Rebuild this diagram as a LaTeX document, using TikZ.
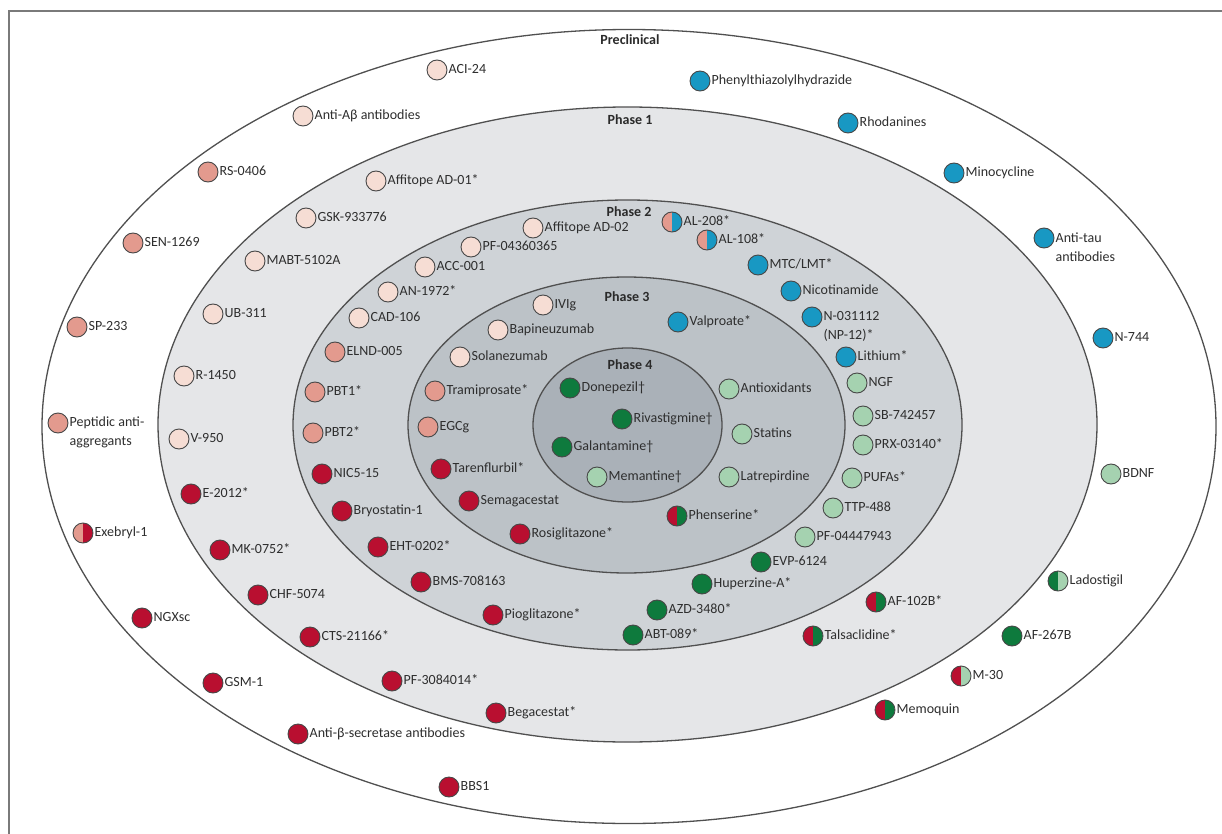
\documentclass[tikz,border=0pt]{standalone}
\usepackage{fontspec}
\setmainfont{Carlito}
\usetikzlibrary{shapes.geometric}
\definecolor{lpink}{HTML}{F6DDD4}
\definecolor{mpink}{HTML}{E39A8E}
\definecolor{dred}{HTML}{B90F30}
\definecolor{cblue}{HTML}{1898C3}
\definecolor{dgreen}{HTML}{0E7A3D}
\definecolor{lgreen}{HTML}{A5D2B0}
\definecolor{pone}{HTML}{E5E6E8}
\definecolor{ptwo}{HTML}{CFD3D7}
\definecolor{pthree}{HTML}{BCC2C7}
\definecolor{pfour}{HTML}{AAB1B8}
\definecolor{txt}{HTML}{2E2E2E}
\definecolor{ptxt}{HTML}{2A2A2A}
\definecolor{ringline}{HTML}{505050}
\definecolor{framec}{HTML}{7A7A7A}
\newcommand\drug[4]{\node[dot=#3] (#1) at (#2) {}; \node[lab] (#1l) at (#1.east) {#4};}
\newcommand\drugtwo[4]{\node[dot=#3] (#1) at (#2) {}; \node[labtwo] (#1l) at (#1.east) {#4};}
\newcommand\hdrug[5]{\node[halfdot={#3}{#4}] (#1) at (#2) {}; \node[lab] (#1l) at (#1.east) {#5};}
\begin{document}
\begin{tikzpicture}[x=1pt,y=-1pt,
 dot/.style={circle,draw=black!72,line width=0.9pt,minimum size=20pt,inner sep=0pt,fill=#1},
 halfdot/.style 2 args={circle,draw=black!72,line width=0.9pt,minimum size=20pt,inner sep=0pt,
   path picture={\fill[#1] (path picture bounding box.south west) rectangle (path picture bounding box.north);
                 \fill[#2] (path picture bounding box.south) rectangle (path picture bounding box.north east);}},
 lab/.style={anchor=west,inner sep=1pt,font=\fontsize{14}{19}\selectfont,text=txt,text height=9.5pt,text depth=2.5pt},
 labtwo/.style={anchor=west,inner sep=1pt,font=\fontsize{14}{19}\selectfont,text=txt,align=left,yshift=-9.5pt},
 phase/.style={font=\bfseries\fontsize{14}{17}\selectfont,text=ptxt,inner sep=0pt},
 ring/.style={ellipse,draw=ringline,line width=1.3pt,inner sep=0pt}
]
\useasboundingbox (0,0) rectangle (1222,834);
\fill[white] (0,0) rectangle (1222,834);
\draw[framec,line width=2.4pt] (9,834) -- (9,11) -- (1222,11);
% rings
\node[ring,fill=white,minimum width=1174pt,minimum height=794pt] (pre) at (629,426.5) {};
\node[ring,fill=pone,minimum width=939pt,minimum height=635pt] (ph1) at (627.5,424.5) {};
\node[ring,fill=ptwo,minimum width=669pt,minimum height=450pt] (ph2) at (627.5,425) {};
\node[ring,fill=pthree,minimum width=437pt,minimum height=296pt] (ph3) at (626.5,425) {};
\node[ring,fill=pfour,minimum width=189pt,minimum height=154pt] (ph4) at (627.5,425) {};
% phase labels
\node[phase] (tpre) at (630,40) {Preclinical};
\node[phase] (tph1) at (630,120) {Phase 1};
\node[phase] (tph2) at (629,212) {Phase 2};
\node[phase] (tph3) at (627,297) {Phase 3};
\node[phase] (tph4) at (630,365) {Phase 4};
% preclinical
\drug{aci}{437,70}{lpink}{ACI-24}
\drug{antiab}{303,116}{lpink}{Anti-Aβ antibodies}
\drug{rs}{208,172}{mpink}{RS-0406}
\drug{sen}{133,243}{mpink}{SEN-1269}
\drug{sp}{77,327}{mpink}{SP-233}
\drugtwo{pep}{58,423}{mpink}{Peptidic anti-\\aggregants}
\hdrug{exe}{83,533}{mpink}{dred}{Exebryl-1}
\drug{ngx}{142,618}{dred}{NGXsc}
\drug{gsm}{213,683}{dred}{GSM-1}
\drug{antibs}{298,734}{dred}{Anti-β-secretase antibodies}
\drug{bbs}{449,787}{dred}{BBS1}
\drug{phen}{700,81}{cblue}{Phenylthiazolylhydrazide}
\drug{rho}{848,123}{cblue}{Rhodanines}
\drug{mino}{954,173}{cblue}{Minocycline}
\drugtwo{antitau}{1044,238}{cblue}{Anti-tau\\antibodies}
\drug{n744}{1103,338}{cblue}{N-744}
\drug{bdnf}{1111,474}{lgreen}{BDNF}
\hdrug{lado}{1058,581}{dgreen}{lgreen}{Ladostigil}
\drug{af267}{1012,636}{dgreen}{AF-267B}
\hdrug{m30}{961,676}{dred}{lgreen}{M-30}
\hdrug{memo}{885,710}{dred}{dgreen}{Memoquin}
% phase 1
\drug{aff1}{376,181}{lpink}{Affitope AD-01*}
\drug{gsk}{306,218}{lpink}{GSK-933776}
\drug{mabt}{255,261}{lpink}{MABT-5102A}
\drug{ub}{213,314}{lpink}{UB-311}
\drug{r1450}{184,376}{lpink}{R-1450}
\drug{v950}{179,439}{lpink}{V-950}
\drug{e2012}{191,494}{dred}{E-2012*}
\drug{mk}{220,550}{dred}{MK-0752*}
\drug{chf}{258,595}{dred}{CHF-5074}
\drug{cts}{310,637}{dred}{CTS-21166*}
\drug{pf308}{392,681}{dred}{PF-3084014*}
\drug{bega}{496,713}{dred}{Begacestat*}
\hdrug{af102}{876,602}{dred}{dgreen}{AF-102B*}
\hdrug{tals}{813,636}{dred}{dgreen}{Talsaclidine*}
% phase 2
\drug{aff2}{533,228}{lpink}{Affitope AD-02}
\drug{pf043}{471,247}{lpink}{PF-04360365}
\drug{acc}{425,267}{lpink}{ACC-001}
\drug{an}{388,292}{lpink}{AN-1972*}
\drug{cad}{359,318}{lpink}{CAD-106}
\drug{elnd}{335,352}{mpink}{ELND-005}
\drug{pbta}{315,392}{mpink}{PBT1*}
\drug{pbtb}{313,433}{mpink}{PBT2*}
\drug{nic}{322,474}{dred}{NIC5-15}
\drug{bryo}{342,511}{dred}{Bryostatin-1}
\drug{eht}{378,547}{dred}{EHT-0202*}
\drug{bms}{421,582}{dred}{BMS-708163}
\drug{pio}{493,615}{dred}{Pioglitazone*}
\drug{abt}{633,635}{dgreen}{ABT-089*}
\drug{azd}{657,610}{dgreen}{AZD-3480*}
\drug{hup}{702,584}{dgreen}{Huperzine-A*}
\drug{evp}{761,562}{dgreen}{EVP-6124}
\drug{pf044}{805,537}{lgreen}{PF-04447943}
\drug{ttp}{833,508}{lgreen}{TTP-488}
\drug{pufa}{852,478}{lgreen}{PUFAs*}
\drug{prx}{863,445}{lgreen}{PRX-03140*}
\drug{sb}{863,416}{lgreen}{SB-742457}
\drug{ngf}{857,383}{lgreen}{NGF}
\drug{lith}{846,357}{cblue}{Lithium*}
\drugtwo{n031}{812,317}{cblue}{N-031112\\(NP-12)*}
\drug{nico}{791,291}{cblue}{Nicotinamide}
\drug{mtc}{758,265}{cblue}{MTC/LMT*}
\hdrug{al108}{707,240}{mpink}{cblue}{AL-108*}
\hdrug{al208}{672,222}{mpink}{cblue}{AL-208*}
% phase 3
\drug{ivig}{543,305}{lpink}{IVIg}
\drug{bapi}{498,330}{lpink}{Bapineuzumab}
\drug{sola}{460,357}{lpink}{Solanezumab}
\drug{trami}{435,391}{mpink}{Tramiprosate*}
\drug{egcg}{428,427}{mpink}{EGCg}
\drug{taren}{441,469}{dred}{Tarenflurbil*}
\drug{sema}{469,501}{dred}{Semagacestat}
\drug{rosi}{520,534}{dred}{Rosiglitazone*}
\hdrug{phens}{677,516}{dred}{dgreen}{Phenserine*}
\drug{latr}{729,477}{lgreen}{Latrepirdine}
\drug{stat}{742,434}{lgreen}{Statins}
\drug{antiox}{729,389}{lgreen}{Antioxidants}
\drug{valp}{678,322}{cblue}{Valproate*}
% phase 4
\drug{done}{570,388}{dgreen}{Donepezil†}
\drug{riva}{622,419}{dgreen}{Rivastigmine†}
\drug{gala}{562,447}{dgreen}{Galantamine†}
\drug{mema}{597,477}{lgreen}{Memantine†}
\end{tikzpicture}
\end{document}
